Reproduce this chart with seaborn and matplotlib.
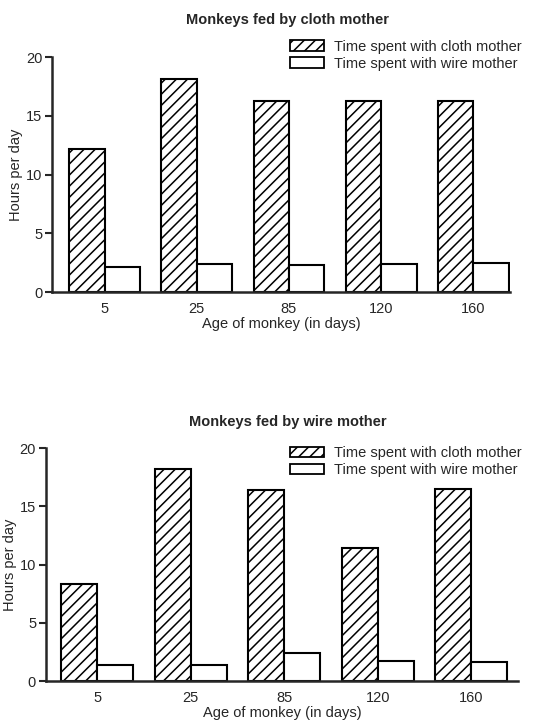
import numpy as np
import pandas as pd
import matplotlib
matplotlib.use("Agg")
import matplotlib.pyplot as plt
from matplotlib.patches import Patch
import seaborn as sns

# Data
ages = ["5", "25", "85", "120", "160"]
series = ["Time spent with cloth mother", "Time spent with wire mother"]

cloth_fed_cloth = [12.2, 18.1, 16.3, 16.3, 16.3]
cloth_fed_wire = [2.1, 2.4, 2.3, 2.4, 2.5]

wire_fed_cloth = [8.3, 18.2, 16.4, 11.4, 16.5]
wire_fed_wire = [1.4, 1.4, 2.4, 1.7, 1.6]

titles = ["Monkeys fed by cloth mother", "Monkeys fed by wire mother"]
yticks = [0, 5, 10, 15, 20]


def long_table(cloth, wire):
    return pd.DataFrame({
        "age": ages * 2,
        "hours": cloth + wire,
        "series": [series[0]] * len(ages) + [series[1]] * len(ages),
    })


sns.set_style("ticks")
plt.rcParams["font.family"] = ["Liberation Sans", "DejaVu Sans"]
plt.rcParams["hatch.linewidth"] = 1.1

fs = 10.5
fig = plt.figure(figsize=(5.33, 7.23), dpi=100)

# axes positions (figure fraction), title/legend y (figure fraction)
panels = [
    dict(rect=[0.098, 0.596, 0.859, 0.325], title_y=0.972, leg_y=0.957,
         data=long_table(cloth_fed_cloth, cloth_fed_wire), xlim=(-0.57, 4.4)),
    dict(rect=[0.086, 0.058, 0.886, 0.322], title_y=0.416, leg_y=0.395,
         data=long_table(wire_fed_cloth, wire_fed_wire), xlim=(-0.55, 4.5)),
]

for i, p in enumerate(panels):
    ax = fig.add_axes(p["rect"])
    sns.barplot(data=p["data"], x="age", y="hours", hue="series",
                order=ages, hue_order=series, palette=["white", "white"],
                width=0.77, edgecolor="black", linewidth=1.5,
                saturation=1, legend=False, ax=ax)
    for bar in ax.containers[0]:
        bar.set_hatch("///")

    ax.set_ylim(0, 20)
    ax.set_yticks(yticks)
    ax.set_xlim(*p["xlim"])
    ax.set_xlabel("Age of monkey (in days)", fontsize=fs, labelpad=1)
    ax.set_ylabel("Hours per day", fontsize=fs, labelpad=2)
    ax.tick_params(axis="y", labelsize=fs, length=5, width=1.5, pad=2)
    ax.tick_params(axis="x", labelsize=fs, length=0, pad=7)
    sns.despine(ax=ax)
    for s in ["left", "bottom"]:
        ax.spines[s].set_linewidth(1.8)

    fig.text(0.54, p["title_y"], titles[i], ha="center", va="center",
             fontsize=fs, fontweight="bold")

    handles = [
        Patch(facecolor="white", edgecolor="black", hatch="///", linewidth=1.3),
        Patch(facecolor="white", edgecolor="black", linewidth=1.3),
    ]
    fig.legend(handles=handles, labels=series, loc="upper right",
               bbox_to_anchor=(0.995, p["leg_y"]), frameon=False,
               fontsize=fs, handlelength=2.3, handleheight=0.75,
               handletextpad=0.7, labelspacing=0.2, borderpad=0.1)

fig.savefig("out.png", dpi=100, facecolor="white")
